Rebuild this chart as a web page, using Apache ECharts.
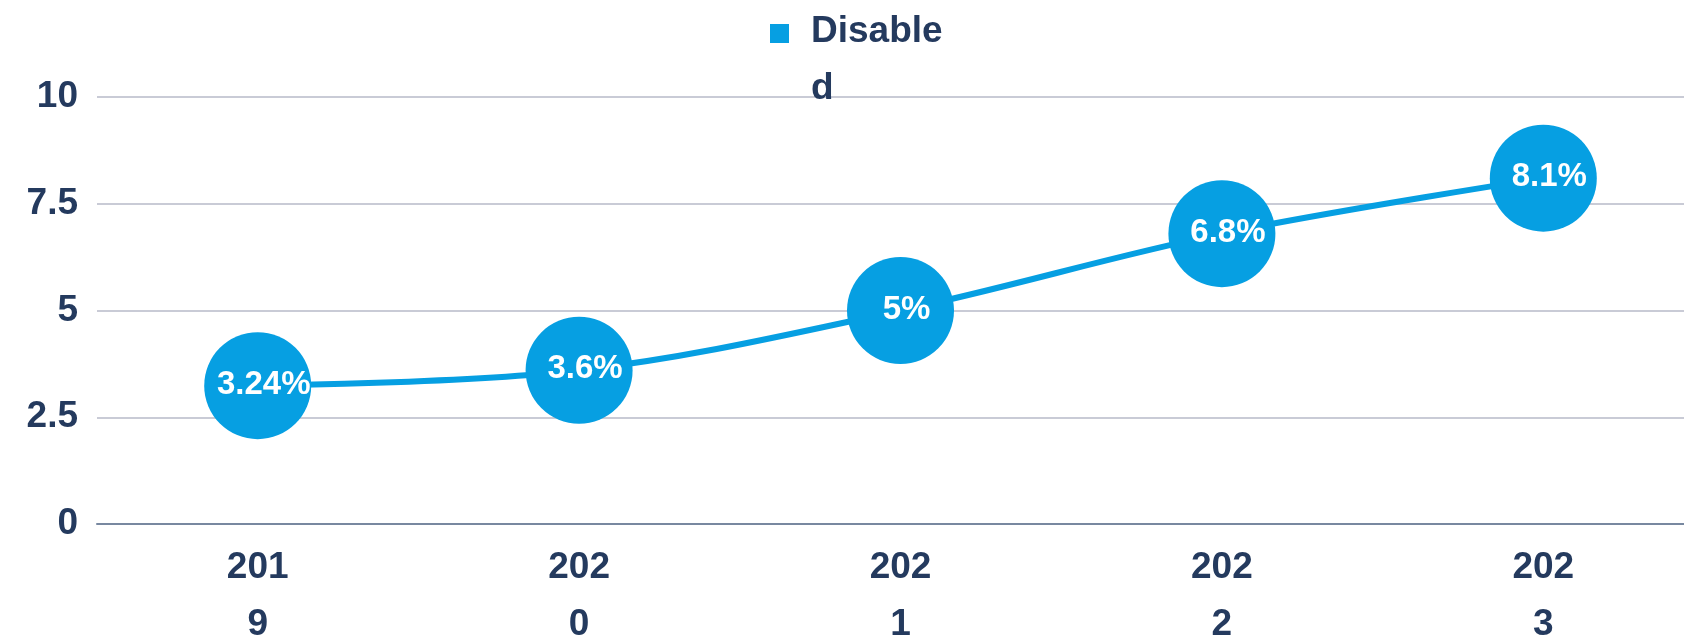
<!DOCTYPE html>
<html>
<head>
<meta charset="utf-8">
<script src="https://cdn.jsdelivr.net/npm/echarts@6/dist/echarts.min.js"></script>
<style>
  html, body { margin: 0; padding: 0; background: #fff; }
  #chart { width: 1684px; height: 639px; }
</style>
</head>
<body>
<div id="chart"></div>
<script>
  const years = ["2019", "2020", "2021", "2022", "2023"];
  const disabledValues = [3.24, 3.6, 5, 6.8, 8.1];
  const seriesName = "Disabled";

  const textColor = "#243a5e";
  const blue = "#069fe2";
  const fontFamily = "'Liberation Sans', Arial, sans-serif";

  const chart = echarts.init(document.getElementById("chart"));

  // legend label wraps like the original: "Disable" / "d"
  const legendText = (name) =>
    "{a|" + name.slice(0, 7) + "}\n{b|" + name.slice(7) + "}";

  chart.setOption({
    animation: false,
    legend: {
      data: [seriesName],
      left: 770,
      top: 13,
      padding: 0,
      icon: "rect",
      itemWidth: 19,
      itemHeight: 19,
      formatter: legendText,
      textStyle: {
        color: textColor,
        fontFamily: fontFamily,
        fontWeight: "bold",
        fontSize: 37,
        rich: {
          a: {
            color: textColor,
            fontFamily: fontFamily,
            fontWeight: "bold",
            fontSize: 37,
            lineHeight: 110,
            padding: [0, 0, 0, 17],
          },
          b: {
            color: textColor,
            fontFamily: fontFamily,
            fontWeight: "bold",
            fontSize: 37,
            lineHeight: 4,
            padding: [0, 0, 0, 17],
          },
        },
      },
    },
    grid: {
      left: 97,
      width: 1607,
      top: 97,
      bottom: 115,
      outerBoundsMode: "none",
    },
    xAxis: {
      type: "category",
      data: years,
      axisLine: { lineStyle: { color: "#7888a0", width: 2 } },
      axisTick: { show: false },
      axisLabel: {
        color: textColor,
        fontFamily: fontFamily,
        fontWeight: "bold",
        fontSize: 37,
        lineHeight: 57,
        width: 70,
        overflow: "breakAll",
        margin: 15,
      },
    },
    yAxis: {
      type: "value",
      min: 0,
      max: 10,
      interval: 2.5,
      axisLine: { show: false },
      axisTick: { show: false },
      splitLine: { lineStyle: { color: "#c9cbd6", width: 2 } },
      axisLabel: {
        color: textColor,
        fontFamily: fontFamily,
        fontWeight: "bold",
        fontSize: 37,
        margin: 19,
      },
    },
    series: [
      {
        name: seriesName,
        type: "line",
        data: disabledValues,
        smooth: 0.35,
        symbol: "circle",
        symbolSize: 107,
        lineStyle: { color: blue, width: 6 },
        itemStyle: { color: blue },
        label: {
          show: true,
          position: "inside",
          offset: [6, -1],
          color: "#fff",
          fontFamily: fontFamily,
          fontWeight: "bold",
          fontSize: 33,
          formatter: (p) => p.value + "%",
        },
      },
    ],
  });
</script>
</body>
</html>
